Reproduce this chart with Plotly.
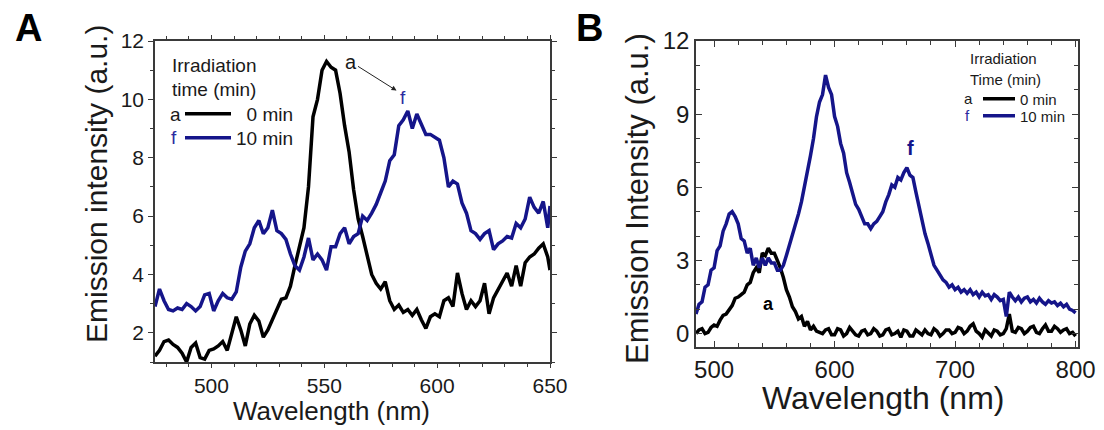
import plotly.graph_objects as go

# ---- panel A : 475-650 nm ----
wl_a = [475, 477, 479, 481, 483, 485, 487, 489, 491, 493, 495, 497, 499, 501, 503, 505, 507, 509,
        511, 513, 515, 517, 519, 521, 523, 525, 527, 529, 531, 533, 535, 537, 539, 541, 543, 545,
        547, 549, 551, 553, 555, 557, 559, 561, 563, 565, 567, 569, 571, 573, 575, 577, 579, 581,
        583, 585, 587, 589, 591, 593, 595, 597, 599, 601, 603, 605, 607, 609, 611, 613, 615, 617,
        619, 621, 623, 625, 627, 629, 631, 633, 635, 637, 639, 641, 643, 645, 647, 649, 650]
int_a_black = [1.2, 1.4, 1.7, 1.75, 1.6, 1.5, 1.3, 1.0, 1.5, 1.65, 1.15, 1.1, 1.4, 1.45, 1.55, 1.7, 1.4, 2.0,
               2.55, 2.1, 1.55, 2.3, 2.6, 2.4, 1.85, 2.1, 2.45, 2.8, 3.15, 3.2, 3.6, 4.3, 5.0, 5.6, 7.0, 9.4,
               10.0, 11.0, 11.3, 11.1, 11.0, 10.2, 9.1, 8.2, 6.9, 5.9, 5.3, 4.7, 4.0, 3.7, 3.5, 3.75, 3.1, 2.8,
               2.95, 2.7, 2.8, 2.6, 2.8, 2.45, 2.15, 2.55, 2.65, 2.55, 3.1, 3.2, 2.9, 4.05, 3.35, 2.8, 3.1, 2.9,
               3.1, 3.7, 2.65, 3.2, 3.5, 3.75, 4.05, 3.6, 4.3, 3.6, 4.4, 4.6, 4.7, 4.9, 5.05, 4.6, 4.15]
int_a_blue = [2.9, 3.5, 3.1, 2.8, 2.75, 2.85, 2.8, 3.0, 2.9, 2.75, 2.9, 3.3, 3.35, 2.75, 3.1, 3.35, 3.2, 3.15,
              3.4, 4.25, 4.8, 5.05, 5.6, 5.85, 5.4, 5.6, 6.2, 5.5, 5.4, 5.2, 4.7, 4.3, 4.15, 4.6, 5.25, 4.5,
              4.7, 4.5, 4.15, 4.95, 4.95, 5.4, 5.6, 5.05, 5.3, 5.4, 6.0, 5.85, 6.1, 6.4, 6.8, 7.2, 7.9, 8.1,
              9.1, 9.3, 9.6, 9.0, 9.5, 9.15, 8.8, 8.8, 8.7, 8.6, 8.0, 7.0, 7.2, 7.1, 6.45, 6.1, 5.5, 5.4,
              5.2, 5.4, 5.5, 4.85, 5.05, 5.15, 5.3, 5.25, 5.75, 5.6, 5.9, 6.65, 6.3, 6.1, 6.5, 5.6, 6.35]

# ---- panel B : 485-800 nm ----
wl_b = [485, 487.5, 490, 492.5, 495, 497.5, 500, 502.5, 505, 507.5,
        510, 512.5, 515, 517.5, 520, 522.5, 525, 527.5, 530, 532.5,
        535, 537.5, 540, 542.5, 545, 547.5, 550, 552.5, 555, 557.5,
        560, 562.5, 565, 567.5, 570, 572.5, 575, 577.5, 580, 582.5,
        585, 587.5, 590, 592.5, 595, 597.5, 600, 602.5, 605, 607.5,
        610, 612.5, 615, 617.5, 620, 622.5, 625, 627.5, 630, 632.5,
        635, 637.5, 640, 642.5, 645, 647.5, 650, 652.5, 655, 657.5,
        660, 662.5, 665, 667.5, 670, 672.5, 675, 677.5, 680, 682.5,
        685, 687.5, 690, 692.5, 695, 697.5, 700, 702.5, 705, 707.5,
        710, 712.5, 715, 717.5, 720, 722.5, 725, 727.5, 730, 732.5,
        735, 737.5, 740, 742.5, 745, 747.5, 750, 752.5, 755, 757.5,
        760, 762.5, 765, 767.5, 770, 772.5, 775, 777.5, 780, 782.5,
        785, 787.5, 790, 792.5, 795, 797.5, 800]
int_b_blue = [0.8, 1.2, 1.3, 1.9, 2.0, 2.6, 2.7, 3.4, 3.6, 4.2,
              4.5, 4.9, 5.0, 4.8, 4.5, 3.9, 3.8, 3.3, 3.5, 2.8,
              3.1, 2.7, 3.1, 2.8, 3.1, 2.9, 2.9, 2.6, 2.6, 2.8,
              3.2, 3.6, 4.0, 4.5, 4.9, 5.4, 6.0, 6.6, 7.3, 8.0,
              8.9, 9.5, 9.8, 10.6, 10.1, 9.8, 8.9, 8.5, 7.8, 7.4,
              6.6, 6.2, 5.7, 5.3, 5.1, 4.8, 4.5, 4.5, 4.3, 4.5,
              4.6, 4.8, 5.0, 5.4, 5.7, 6.1, 6.0, 6.4, 6.3, 6.6,
              6.8, 6.5, 6.4, 5.8, 5.2, 4.6, 4.1, 3.7, 3.3, 2.8,
              2.6, 2.4, 2.2, 2.1, 1.9, 2.0, 1.8, 1.9, 1.7, 1.8,
              1.65, 1.8, 1.6, 1.7, 1.5, 1.7, 1.55, 1.6, 1.4, 1.6,
              1.5, 1.35, 1.4, 0.7, 1.7, 1.5, 1.35, 1.5, 1.3, 1.45,
              1.5, 1.3, 1.4, 1.25, 1.45, 1.3, 1.2, 1.35, 1.25, 1.3,
              1.15, 1.25, 1.1, 1.2, 1.0, 0.95, 0.85]
int_b_black = [0.0, 0.15, 0.2, 0.0, 0.05, 0.25, 0.35, 0.3, 0.55, 0.75,
               0.8, 1.0, 1.15, 1.45, 1.5, 1.6, 1.7, 2.0, 2.1, 2.5,
               2.7, 2.5, 3.3, 3.2, 3.5, 3.3, 3.3, 3.0, 2.7, 2.3,
               1.8, 1.5, 1.1, 0.9, 0.6, 0.7, 0.3, 0.5, 0.15, 0.3,
               0.1, 0.05, 0.0, 0.15, 0.2, -0.05, -0.05, 0.2, 0.15, -0.1,
               0.0, 0.25, 0.1, -0.05, -0.1, 0.1, 0.15, -0.05, 0.0, 0.2,
               0.1, -0.1, -0.05, 0.15, 0.2, -0.05, 0.0, 0.1, -0.15, 0.15,
               0.1, -0.1, -0.1, 0.15, 0.05, -0.05, 0.15, 0.0, -0.05, 0.2,
               0.1, -0.1, 0.0, 0.15, 0.15, 0.0, 0.05, 0.25, 0.2, 0.0,
               0.1, 0.3, 0.4, 0.1, 0.0, -0.15, 0.15, 0.0, -0.1, 0.15,
               0.1, -0.05, 0.0, 0.2, 0.8, 0.1, 0.05, 0.25, 0.2, 0.0,
               0.1, 0.25, 0.3, 0.05, 0.0, 0.2, 0.35, 0.1, 0.1, 0.3,
               0.2, 0.05, 0.15, 0.2, 0.0, 0.05, -0.1]

names_a = ["\u20070 min", "10 min"]
names_b = ["0 min", "10 min"]
BLACK = "#000000"
BLUE = "#15158a"
AXC = "#3a3a3a"
OFF = 8  # page body margin
W, H = 1104 - OFF, 430 - OFF
FONT = "Liberation Sans, Arial, sans-serif"


def px(x):
    return (x - OFF) / W


def py(y):
    return 1 - (y - OFF) / H


fig = go.Figure()
fig.add_scatter(x=wl_a, y=int_a_black, mode="lines", name=names_a[0],
                line=dict(color=BLACK, width=3.5), xaxis="x", yaxis="y", legend="legend")
fig.add_scatter(x=wl_a, y=int_a_blue, mode="lines", name=names_a[1],
                line=dict(color=BLUE, width=3.5), xaxis="x", yaxis="y", legend="legend2")
fig.add_scatter(x=wl_b, y=int_b_black, mode="lines", name=names_b[0],
                line=dict(color=BLACK, width=3.5), xaxis="x2", yaxis="y2", legend="legend3")
fig.add_scatter(x=wl_b, y=int_b_blue, mode="lines", name=names_b[1],
                line=dict(color=BLUE, width=3.5), xaxis="x2", yaxis="y2", legend="legend4")

ax_common = dict(showgrid=False, zeroline=False, showline=True, linecolor=AXC, linewidth=1.5,
                 tickcolor=AXC, tickwidth=1.2, automargin=False, mirror="ticks")


def leg(x, y, size, itemw):
    return dict(x=px(x), y=py(y), xanchor="left", yanchor="middle", bgcolor="rgba(0,0,0,0)",
                font=dict(size=size), itemwidth=itemw)


fig.update_layout(
    width=W, height=H, margin=dict(l=0, r=0, t=0, b=0, autoexpand=False),
    paper_bgcolor="white", plot_bgcolor="white",
    font=dict(family=FONT, color="#1a1a1a"),
    xaxis=dict(domain=[px(155), px(550)], range=[475, 650], anchor="y", tick0=500, dtick=50,
               ticks="outside", ticklen=4, tickfont=dict(size=21),
               minor=dict(dtick=10, ticks="outside", ticklen=3, tickcolor=AXC), **ax_common),
    yaxis=dict(domain=[py(362), py(41)], range=[1, 12], anchor="x", tick0=0, dtick=2,
               ticks="outside", ticklen=5, tickfont=dict(size=21),
               minor=dict(dtick=1, ticks="outside", ticklen=3, tickcolor=AXC), **ax_common),
    xaxis2=dict(domain=[px(696), px(1078)], range=[485, 802], anchor="y2", tick0=0, dtick=100,
                ticks="inside", ticklen=6, tickfont=dict(size=24),
                minor=dict(dtick=20, ticks="inside", ticklen=4, tickcolor=AXC), **ax_common),
    yaxis2=dict(domain=[py(347), py(41)], range=[-0.55, 12], anchor="x2", tick0=0, dtick=3,
                ticks="inside", ticklen=6, tickfont=dict(size=24),
                minor=dict(dtick=1, ticks="inside", ticklen=4, tickcolor=AXC), **ax_common),
    legend=leg(180, 114, 19, 46),
    legend2=leg(180, 138, 19, 46),
    legend3=leg(978, 99, 15, 32),
    legend4=leg(978, 116, 15, 32),
    showlegend=True,
)

ann = []


def text(x, y, s, size, color="#1a1a1a", bold=False, xanchor="center", angle=0):
    ann.append(dict(x=px(x), y=py(y), xref="paper", yref="paper", text=f"<b>{s}</b>" if bold else s,
                    showarrow=False, font=dict(size=size, color=color, family=FONT),
                    xanchor=xanchor, yanchor="middle", textangle=angle))


# panel letters
text(28, 28, "A", 38, "#000", bold=True)
text(589, 28, "B", 38, "#000", bold=True)
# axis titles
text(331, 411, "Wavelength (nm)", 26)
text(96, 184, "Emission intensity (a.u.)", 30, angle=-90)
text(883, 398, "Wavelength (nm)", 32)
text(638, 199, "Emission Intensity (a.u.)", 31, angle=-90)
# legend A
text(170, 65, "Irradiation", 19, xanchor="left")
text(170, 89, "time (min)", 19, xanchor="left")
text(175, 114, "a", 19)
text(174, 138, "f", 19, color="#2b2ba0")
# legend B
text(968, 59, "Irradiation", 15, xanchor="left")
text(968, 79, "Time (min)", 15, xanchor="left")
text(968, 99, "a", 15)
text(967, 116, "f", 15, color="#2b2ba0")

# curve labels
ann.append(dict(x=582, y=10.3, xref="x", yref="y", ax=-46, ay=-29, text="a", showarrow=True,
                arrowhead=2, arrowsize=1, arrowwidth=1, arrowcolor="#222",
                font=dict(size=20, color="#1a1a1a", family=FONT)))
ann.append(dict(x=585, y=10.05, xref="x", yref="y", text="f", showarrow=False,
                font=dict(size=19, color="#2b2ba0", family=FONT)))
ann.append(dict(x=663, y=7.6, xref="x2", yref="y2", text="<b>f</b>", showarrow=False,
                font=dict(size=20, color=BLUE, family=FONT)))
ann.append(dict(x=545, y=1.2, xref="x2", yref="y2", text="<b>a</b>", showarrow=False,
                font=dict(size=18, color="#000", family=FONT)))
fig.update_layout(annotations=ann)

fig.write_html("out.html")
